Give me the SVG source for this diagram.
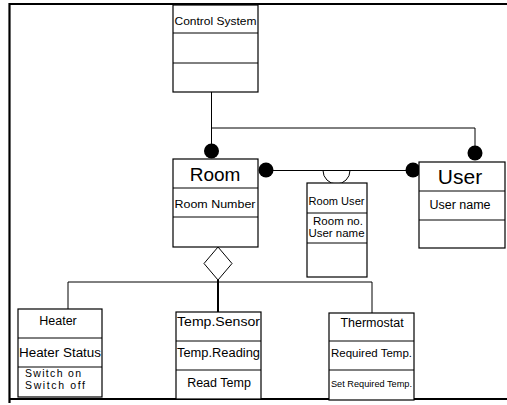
<svg xmlns="http://www.w3.org/2000/svg" width="507" height="405" viewBox="0 0 507 405">
<style>
.box{fill:#fff;stroke:#000;stroke-width:1.2}
.ln{fill:none;stroke:#000;stroke-width:1}
.t{font-family:"Liberation Sans",Arial,sans-serif;fill:#000}
.c{text-anchor:middle}
</style>
<rect x="0" y="0" width="507" height="405" fill="#fff"/>
<path d="M9.5,403 V4 H510" fill="none" stroke="#000" stroke-width="2.2"/>
<path d="M9.5,399 H510" fill="none" stroke="#000" stroke-width="2"/>
<g id="connectors">
<path class="ln" d="M211.5,92 V151"/>
<path class="ln" d="M211.5,128 H475 V153"/>
<path class="ln" d="M266,170.5 H413"/>
<path class="ln" d="M323,170.5 A13.5,13.5 0 0 0 350,170.5"/>
<path class="ln" d="M68,309 V282 H372 V313"/>
<path d="M218,280 V312" fill="none" stroke="#000" stroke-width="2"/>
<polygon points="218,247 232,263.5 218,280 204,263.5" fill="#fff" stroke="#000" stroke-width="1"/>
<circle cx="211.5" cy="151" r="7.5"/>
<circle cx="266" cy="170" r="7.5"/>
<circle cx="413" cy="170" r="7.5"/>
<circle cx="475" cy="153" r="7.5"/>
</g>
<g id="control-system">
<rect class="box" x="173" y="5" width="85" height="87"/>
<path class="ln" d="M173,33 H258 M173,63 H258"/>
<text class="t" x="174.5" y="25" font-size="11.5" textLength="82" lengthAdjust="spacingAndGlyphs">Control System</text>
</g>
<g id="room">
<rect class="box" x="173" y="159" width="85" height="88"/>
<path class="ln" d="M173,188 H258 M173,217 H258"/>
<text class="t c" x="215" y="181" font-size="19">Room</text>
<text class="t" x="174.5" y="208" font-size="11.5" textLength="81" lengthAdjust="spacingAndGlyphs">Room Number</text>
</g>
<g id="room-user">
<rect class="box" x="307" y="183" width="60" height="94"/>
<path class="ln" d="M307,213 H367 M307,243 H367"/>
<text class="t" x="308.5" y="205" font-size="10.5" textLength="56" lengthAdjust="spacingAndGlyphs">Room User</text>
<text class="t c" x="338" y="225" font-size="11.5">Room no.</text>
<text class="t" x="308.5" y="237" font-size="11" textLength="56" lengthAdjust="spacingAndGlyphs">User name</text>
</g>
<g id="user">
<rect class="box" x="419" y="162" width="86" height="86"/>
<path class="ln" d="M419,191 H505 M419,220 H505"/>
<text class="t c" x="460" y="184" font-size="21">User</text>
<text class="t c" x="460" y="209" font-size="12.5">User name</text>
</g>
<g id="heater">
<rect class="box" x="18" y="309" width="84" height="88"/>
<path class="ln" d="M18,338 H102 M18,367 H102"/>
<text class="t c" x="58" y="325" font-size="12.5">Heater</text>
<text class="t" x="19" y="357" font-size="12.5" textLength="82" lengthAdjust="spacingAndGlyphs">Heater Status</text>
<text class="t" x="25" y="377" font-size="10.5" textLength="56" lengthAdjust="spacing">Switch on</text>
<text class="t" x="25" y="389" font-size="10.5" textLength="60" lengthAdjust="spacing">Switch off</text>
</g>
<g id="temp-sensor">
<rect class="box" x="176" y="312" width="85" height="87"/>
<path class="ln" d="M176,341 H261 M176,370 H261"/>
<text class="t" x="177" y="326" font-size="12.5" textLength="83" lengthAdjust="spacingAndGlyphs">Temp.Sensor</text>
<text class="t" x="177" y="357" font-size="12.5" textLength="83" lengthAdjust="spacingAndGlyphs">Temp.Reading</text>
<text class="t c" x="219" y="387" font-size="12.5">Read Temp</text>
</g>
<g id="thermostat">
<rect class="box" x="329" y="313" width="85" height="87"/>
<path class="ln" d="M329,341 H414 M329,370 H414"/>
<text class="t c" x="372" y="327" font-size="12.5">Thermostat</text>
<text class="t" x="331" y="357" font-size="11" textLength="81" lengthAdjust="spacingAndGlyphs">Required Temp.</text>
<text class="t" x="331" y="387" font-size="9.5" textLength="81" lengthAdjust="spacingAndGlyphs">Set Required Temp.</text>
</g>
</svg>
